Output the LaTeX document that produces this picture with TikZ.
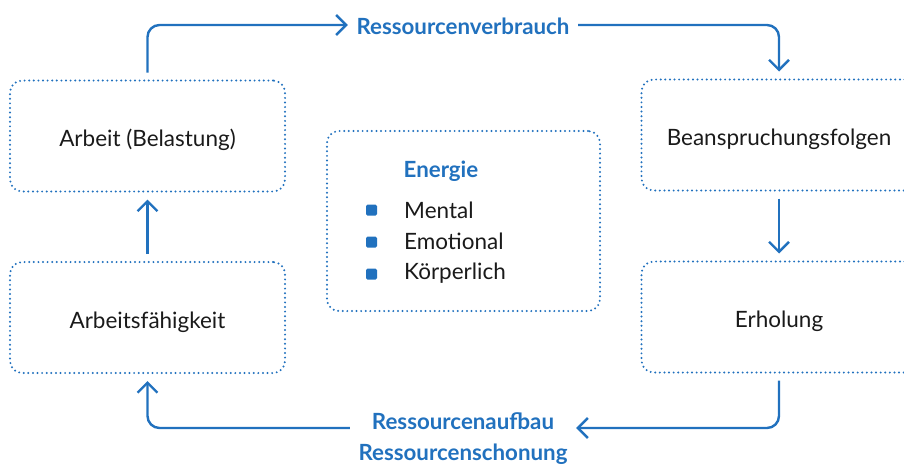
\documentclass[tikz,border=0pt]{standalone}
\usepackage{fontspec}
\setmainfont{Lato}
\usetikzlibrary{arrows.meta}
\definecolor{cycleblue}{RGB}{33,113,190}
\definecolor{textgray}{RGB}{26,26,26}
\tikzset{
  phase/.style={draw=cycleblue, line width=2.2pt, dash pattern=on 0pt off 4.6pt, line cap=round,
    rounded corners=12pt, minimum width=275pt, minimum height=111pt, outer sep=8pt,
    text height=24pt, text depth=3pt,
    font=\fontsize{22.5}{27}\selectfont, text=textgray},
  flow/.style={draw=cycleblue, line width=2.4pt, -{Straight Barb[length=10pt,width=20pt]}, rounded corners=12pt},
  flowlabel/.style={text=cycleblue, font=\fontsize{22.3}{31}\selectfont\bfseries, inner sep=8.5pt, align=center},
  bullet/.style={fill=cycleblue, rounded corners=1.5pt, minimum size=11pt, inner sep=0pt},
  listitem/.style={text=textgray, font=\fontsize{22.5}{27}\selectfont, anchor=west, inner sep=0pt}
}
\begin{document}
\begin{tikzpicture}[x=1pt, y=-1pt]
  \useasboundingbox (0,0) rectangle (904,464);
  \clip (0,0) rectangle (904,464);

  % Phases of the cycle
  \node[phase] (arbeit) at (147.5,136) {Arbeit (Belastung)};
  \node[phase] (folgen) at (779,135) {Beanspruchungsfolgen};
  \node[phase] (erholung) at (779,317) {Erholung};
  \node[phase] (faehig) at (147.5,317.5) {Arbeitsfähigkeit};

  % Energy box in the middle
  \node[phase, minimum width=273pt, minimum height=180pt] (energie) at (463.5,221) {};
  \node[text=cycleblue, font=\fontsize{22.3}{27}\selectfont\bfseries] (titel) at (441,171) {Energie};
  \node[bullet] (b1) at (371.5,210) {};
  \node[bullet] (b2) at (371.5,242) {};
  \node[bullet] (b3) at (371.5,274) {};
  \node[listitem] (mental) at (404,210.5) {Mental};
  \node[listitem] (emotional) at (404,241.5) {Emotional};
  \node[listitem] (koerper) at (404,273.5) {Körperlich};

  % Labels on the arrows
  \node[flowlabel] (verbrauch) at (463,26) {Ressourcenverbrauch};
  \node[flowlabel] (aufbau) at (463,439) {Ressourcenaufbau\\Ressourcenschonung};

  % Arrows
  \draw[flow] (arbeit.north) |- ([yshift=1pt]verbrauch.west);
  \draw[flow] ([yshift=1pt]verbrauch.east) -| (folgen.north);
  \draw[flow] (folgen) -- (erholung);
  \draw[flow] (erholung.south) |- ([yshift=11pt]aufbau.east);
  \draw[flow] ([yshift=11pt]aufbau.west) -| (faehig.south);
  \draw[flow] (faehig) -- (arbeit);
\end{tikzpicture}
\end{document}
